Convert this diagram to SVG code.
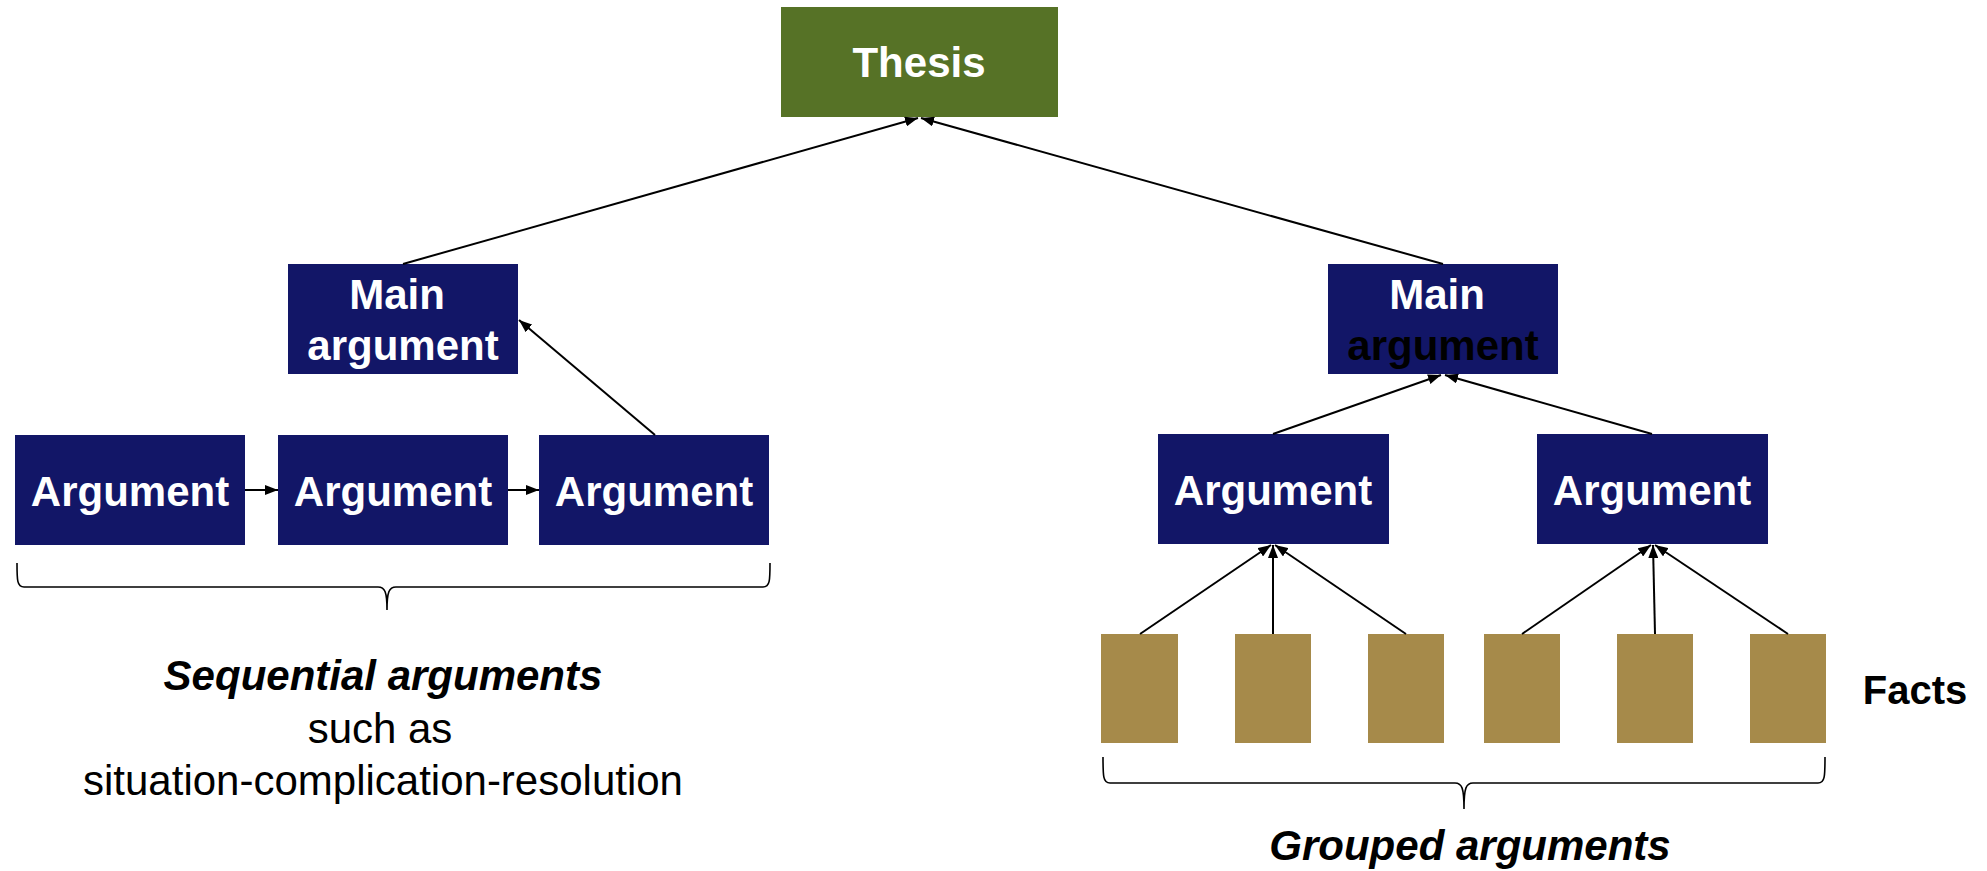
<svg xmlns="http://www.w3.org/2000/svg" width="1987" height="871" viewBox="0 0 1987 871">
<defs>
<marker id="ah" markerUnits="userSpaceOnUse" markerWidth="14" markerHeight="10" refX="13" refY="5" orient="auto">
<path d="M0,0 L13,5 L0,10 z" fill="#000"/>
</marker>
<style>
.navy{fill:#121667}
.green{fill:#567226}
.fact{fill:#A68A4A}
.t{font-family:"Liberation Sans",Arial,sans-serif;font-size:42px;text-anchor:middle}
.w{fill:#fff;font-weight:bold}
.b{fill:#000;font-weight:bold}
.bi{fill:#000;font-weight:bold;font-style:italic}
.r{fill:#000}
.c{stroke:#000;stroke-width:2;fill:none;marker-end:url(#ah)}
.br{stroke:#000;stroke-width:1.6;fill:none}
</style>
</defs>
<rect width="1987" height="871" fill="#fff"/>
<g id="thesis">
<rect class="green" x="781" y="7" width="277" height="110"/>
<text class="t w" x="919" y="77">Thesis</text>
</g>
<g id="main-left">
<rect class="navy" x="288" y="264" width="230" height="110"/>
<text class="t w" x="397" y="309">Main</text>
<text class="t w" x="403" y="360">argument</text>
</g>
<g id="main-right">
<rect class="navy" x="1328" y="264" width="230" height="110"/>
<text class="t w" x="1437" y="309">Main</text>
<text class="t b" x="1443" y="360">argument</text>
</g>
<g id="seq1">
<rect class="navy" x="15" y="435" width="230" height="110"/>
<text class="t w" x="130" y="506">Argument</text>
</g>
<g id="seq2">
<rect class="navy" x="278" y="435" width="230" height="110"/>
<text class="t w" x="393" y="506">Argument</text>
</g>
<g id="seq3">
<rect class="navy" x="539" y="435" width="230" height="110"/>
<text class="t w" x="654" y="506">Argument</text>
</g>
<g id="grp1">
<rect class="navy" x="1158" y="434" width="231" height="110"/>
<text class="t w" x="1273" y="505">Argument</text>
</g>
<g id="grp2">
<rect class="navy" x="1537" y="434" width="231" height="110"/>
<text class="t w" x="1652" y="505">Argument</text>
</g>
<g id="facts">
<rect class="fact" x="1101" y="634" width="77" height="109"/>
<rect class="fact" x="1235" y="634" width="76" height="109"/>
<rect class="fact" x="1368" y="634" width="76" height="109"/>
<rect class="fact" x="1484" y="634" width="76" height="109"/>
<rect class="fact" x="1617" y="634" width="76" height="109"/>
<rect class="fact" x="1750" y="634" width="76" height="109"/>
</g>
<g id="connectors">
<line class="c" x1="403" y1="264" x2="918" y2="118"/>
<line class="c" x1="1443" y1="264" x2="921" y2="118"/>
<line class="c" x1="655" y1="435" x2="519" y2="320"/>
<line class="c" x1="245" y1="490" x2="278" y2="490"/>
<line class="c" x1="508" y1="490" x2="539" y2="490"/>
<line class="c" x1="1273" y1="434" x2="1441" y2="375"/>
<line class="c" x1="1652" y1="434" x2="1445" y2="375"/>
<line class="c" x1="1140" y1="634" x2="1271" y2="545"/>
<line class="c" x1="1273" y1="634" x2="1273" y2="545"/>
<line class="c" x1="1406" y1="634" x2="1275" y2="545"/>
<line class="c" x1="1522" y1="634" x2="1651" y2="545"/>
<line class="c" x1="1655" y1="634" x2="1653" y2="545"/>
<line class="c" x1="1788" y1="634" x2="1655" y2="545"/>
</g>
<g id="brace-left">
<path class="br" d="M17,563 C17,580 17,587 24,587 L378,587 C385,587 387,592 387,610 C387,592 389,587 396,587 L763,587 C770,587 770,580 770,563"/>
<text class="t bi" x="383" y="690">Sequential arguments</text>
<text class="t r" x="380" y="743">such as</text>
<text class="t r" x="383" y="795">situation-complication-resolution</text>
</g>
<g id="brace-right">
<path class="br" d="M1103,757 C1103,776 1103,783 1110,783 L1455,783 C1462,783 1464,788 1464,809 C1464,788 1466,783 1473,783 L1818,783 C1825,783 1825,776 1825,757"/>
<text class="t bi" x="1470" y="860">Grouped arguments</text>
</g>
<g id="facts-label">
<text class="t b" x="1915" y="704" style="font-size:40px">Facts</text>
</g>
</svg>
